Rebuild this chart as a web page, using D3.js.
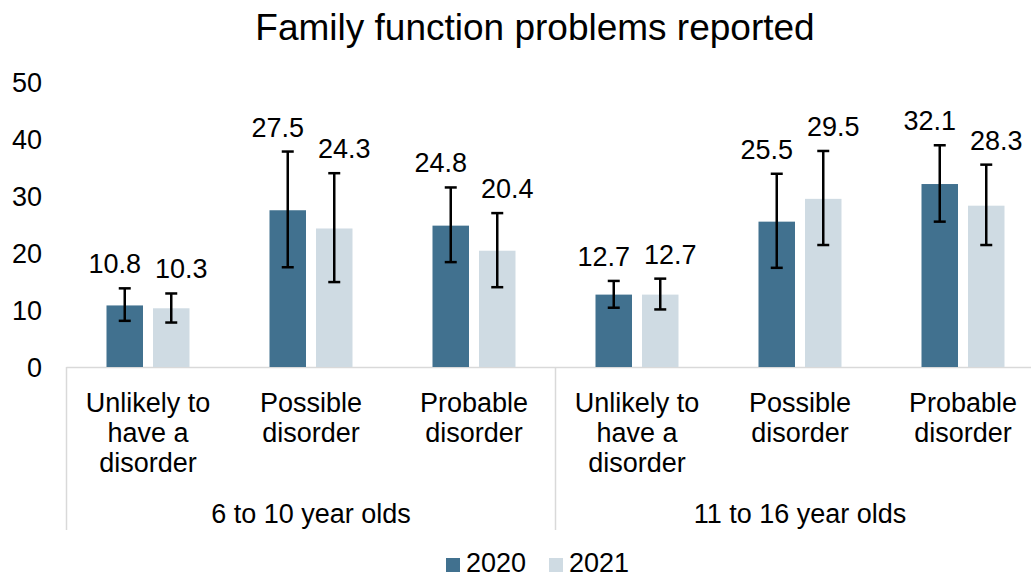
<!DOCTYPE html>
<html>
<head>
<meta charset="utf-8">
<script src="https://cdn.jsdelivr.net/npm/d3@7"></script>
<style>
  html, body { margin: 0; padding: 0; background: #fff; }
  svg text { font-family: "Liberation Sans", Arial, sans-serif; fill: #000; }
</style>
</head>
<body>
<svg id="chart" width="1031" height="578"></svg>
<script>
// ---- data ----
const title = "Family function problems reported";
const groups = ["6 to 10 year olds", "11 to 16 year olds"];
const categories = ["Unlikely to have a disorder", "Possible disorder", "Probable disorder"];
const categoryLines = [["Unlikely to", "have a", "disorder"], ["Possible", "disorder"], ["Probable", "disorder"]];
const seriesNames = ["2020", "2021"];
const values2020 = [10.8, 27.5, 24.8, 12.7, 25.5, 32.1];
const values2021 = [10.3, 24.3, 20.4, 12.7, 29.5, 28.3];
const lower2020 = [8.1, 17.5, 18.4, 10.4, 17.4, 25.5];
const upper2020 = [13.8, 37.8, 31.5, 15.1, 33.9, 38.9];
const lower2021 = [7.8, 14.9, 14.0, 10.1, 21.4, 21.4];
const upper2021 = [12.9, 34.0, 27.0, 15.5, 37.9, 35.5];
const yTicks = [0, 10, 20, 30, 40, 50];
const colors = ["#41718f", "#cfdbe3"];

// ---- build rows ----
const rows = [];
groups.forEach((g, gi) => {
  categories.forEach((c, ci) => {
    const i = gi * categories.length + ci;
    rows.push({
      id: g + "|" + c, group: g, cat: ci,
      series: [
        { name: seriesNames[0], v: values2020[i], lo: lower2020[i], hi: upper2020[i] },
        { name: seriesNames[1], v: values2021[i], lo: lower2021[i], hi: upper2021[i] }
      ]
    });
  });
});

const FS = 27;
const svg = d3.select("#chart");
const x0 = d3.scaleBand().domain(rows.map(r => r.id)).range([66.5, 1044.5]).padding(0);
const x1 = d3.scaleBand().domain(seriesNames).range([0, x0.bandwidth()]).paddingInner(0.215).paddingOuter(0.86);
const y = d3.scaleLinear().domain([0, 50]).range([367, 82]);
const color = d3.scaleOrdinal().domain(seriesNames).range(colors);

// title
svg.append("text").attr("x", 535).attr("y", 39.5).attr("text-anchor", "middle")
  .style("font-size", "37px").text(title);

// y axis labels (no line)
const yAxis = d3.axisLeft(y).tickValues(yTicks).tickSize(0).tickPadding(0);
const ya = svg.append("g").attr("transform", "translate(42,0)").call(yAxis);
ya.select(".domain").remove();
ya.selectAll("text").style("font-size", FS + "px").attr("dy", "0.35em")
  .style("font-family", "'Liberation Sans', Arial, sans-serif").attr("fill", "#000");

// axis lines
const axisColor = "#d9d9d9";
svg.append("line").attr("x1", 66.5).attr("x2", 1044.5).attr("y1", y(0) + 0.5).attr("y2", y(0) + 0.5)
  .attr("stroke", axisColor).attr("stroke-width", 1.5);
const groupEdges = [0, categories.length, rows.length];
groupEdges.forEach(k => {
  const xx = k < rows.length ? x0(rows[k].id) : x0.range()[1];
  svg.append("line").attr("x1", xx).attr("x2", xx).attr("y1", y(0)).attr("y2", 530)
    .attr("stroke", axisColor).attr("stroke-width", 1.5);
});

// bars
const catG = svg.selectAll("g.cat").data(rows).join("g").attr("class", "cat")
  .attr("transform", d => `translate(${x0(d.id)},0)`);
catG.selectAll("rect").data(d => d.series).join("rect")
  .attr("x", d => x1(d.name)).attr("width", x1.bandwidth())
  .attr("y", d => y(d.v)).attr("height", d => y(0) - y(d.v))
  .attr("fill", d => color(d.name));

// error bars
const capW = 12;
const cx = d => x1(d.name) + x1.bandwidth() / 2;
const eb = catG.selectAll("g.eb").data(d => d.series).join("g").attr("class", "eb")
  .attr("stroke", "#000").attr("stroke-width", 2.5);
eb.append("line").attr("x1", cx).attr("x2", cx).attr("y1", d => y(d.lo)).attr("y2", d => y(d.hi));
eb.append("line").attr("x1", d => cx(d) - capW / 2).attr("x2", d => cx(d) + capW / 2)
  .attr("y1", d => y(d.hi)).attr("y2", d => y(d.hi));
eb.append("line").attr("x1", d => cx(d) - capW / 2).attr("x2", d => cx(d) + capW / 2)
  .attr("y1", d => y(d.lo)).attr("y2", d => y(d.lo));

// value labels, with simple horizontal collision avoidance
catG.each(function (r) {
  const g = d3.select(this);
  const labs = r.series.map(d => ({ d, x: cx(d), y: y(d.hi) - 15 }));
  const texts = labs.map(l => g.append("text").attr("text-anchor", "middle")
    .style("font-size", FS + "px").attr("y", l.y).text(l.d.v.toFixed(1)));
  const w = texts.map(t => t.node().getComputedTextLength());
  const minGap = 14;
  if (Math.abs(labs[0].y - labs[1].y) < FS) {
    const gap = (labs[1].x - w[1] / 2) - (labs[0].x + w[0] / 2);
    if (gap < minGap) {
      const s = (minGap - gap) / 2;
      labs[0].x -= s; labs[1].x += s;
    }
  }
  texts.forEach((t, i) => t.attr("x", labs[i].x));
});

// category labels
rows.forEach(r => {
  const t = svg.append("text").attr("text-anchor", "middle").style("font-size", FS + "px")
    .attr("transform", `translate(${x0(r.id) + x0.bandwidth() / 2},411.5)`);
  categoryLines[r.cat].forEach((ln, li) => {
    t.append("tspan").attr("x", 0).attr("y", li * 30).text(ln);
  });
});

// group labels
groups.forEach((g, gi) => {
  const a = x0(rows[gi * categories.length].id);
  const b = (gi + 1) * categories.length < rows.length ? x0(rows[(gi + 1) * categories.length].id) : x0.range()[1];
  svg.append("text").attr("x", (a + b) / 2).attr("y", 523).attr("text-anchor", "middle")
    .style("font-size", FS + "px").text(g);
});

// legend
const legendX = [446, 549];
seriesNames.forEach((s, i) => {
  svg.append("rect").attr("x", legendX[i]).attr("y", 558).attr("width", 14).attr("height", 14).attr("fill", color(s));
  svg.append("text").attr("x", legendX[i] + 20).attr("y", 572).style("font-size", FS + "px").text(s);
});
</script>
</body>
</html>
